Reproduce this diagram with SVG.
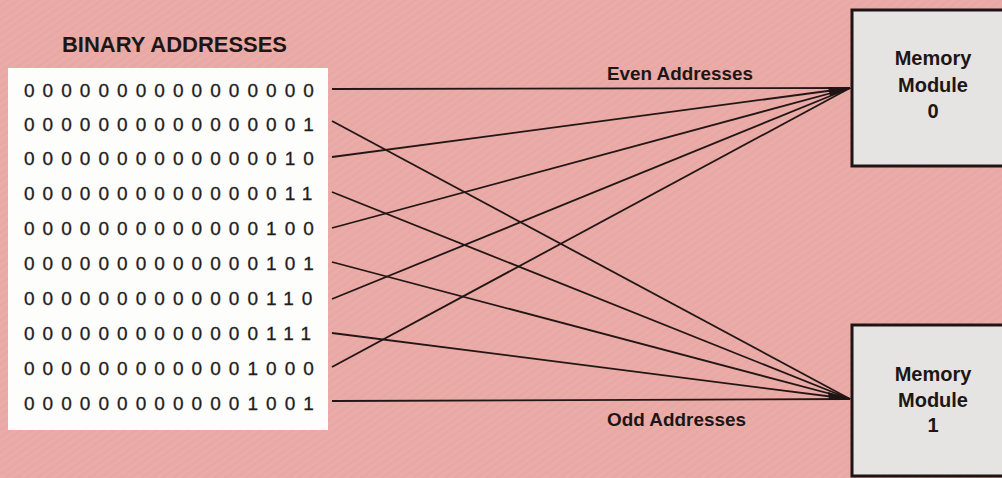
<svg xmlns="http://www.w3.org/2000/svg" width="1002" height="478" viewBox="0 0 1002 478">
<style>
.bold{font-family:"Liberation Sans",Arial,sans-serif;font-weight:bold;fill:#1e1616}
.addr{font-family:"Liberation Sans",Arial,sans-serif;font-size:19px;fill:#231c1c;stroke:#231c1c;stroke-width:0.3;letter-spacing:8.05px}
.mod{font-family:"Liberation Sans",Arial,sans-serif;font-weight:bold;font-size:20px;fill:#1e1616;text-anchor:middle}
.wire{stroke:#221616;stroke-width:1.8;fill:none}
.box{fill:#e5e4e2;stroke:#1e1414;stroke-width:3}
</style>
<defs>
<pattern id="stripes" width="6" height="6" patternUnits="userSpaceOnUse" patternTransform="rotate(-35)">
<rect width="6" height="3" fill="#ffffff" opacity="0.05"/>
</pattern>
</defs>
<rect width="1002" height="478" fill="#e9a8a3"/>
<rect width="1002" height="478" fill="url(#stripes)"/>

<g id="addresses">
<text class="bold" x="62" y="52" font-size="21.5" textLength="225" lengthAdjust="spacingAndGlyphs">BINARY ADDRESSES</text>
<rect x="8" y="68" width="320" height="362" fill="#fdfdfb"/>
<text class="addr" x="24" y="96.5">0000000000000000</text>
<text class="addr" x="24" y="130.5">0000000000000001</text>
<text class="addr" x="24" y="164.5">0000000000000010</text>
<text class="addr" x="24" y="199.5">0000000000000011</text>
<text class="addr" x="24" y="234.5">0000000000000100</text>
<text class="addr" x="24" y="269.5">0000000000000101</text>
<text class="addr" x="24" y="304.5">0000000000000110</text>
<text class="addr" x="24" y="339.5">0000000000000111</text>
<text class="addr" x="24" y="374.5">0000000000001000</text>
<text class="addr" x="24" y="409.5">0000000000001001</text>
</g>

<g id="module0">
<rect class="box" x="852" y="10" width="160" height="156"/>
<text class="mod" x="933" y="65">Memory</text>
<text class="mod" x="933" y="92">Module</text>
<text class="mod" x="933" y="118">0</text>
</g>

<g id="module1">
<rect class="box" x="852" y="325" width="160" height="151"/>
<text class="mod" x="933" y="381">Memory</text>
<text class="mod" x="933" y="407">Module</text>
<text class="mod" x="933" y="432">1</text>
</g>

<g id="connectors">
<line class="wire" x1="332" y1="89" x2="850" y2="88"/>
<line class="wire" x1="332" y1="121" x2="850" y2="399"/>
<line class="wire" x1="332" y1="157" x2="850" y2="88"/>
<line class="wire" x1="332" y1="192" x2="850" y2="399"/>
<line class="wire" x1="332" y1="228" x2="850" y2="88"/>
<line class="wire" x1="332" y1="262" x2="850" y2="399"/>
<line class="wire" x1="332" y1="299" x2="850" y2="88"/>
<line class="wire" x1="332" y1="333" x2="850" y2="399"/>
<line class="wire" x1="332" y1="367" x2="850" y2="88"/>
<line class="wire" x1="332" y1="401" x2="850" y2="399"/>
<polygon points="852,88 828,87 830,96" fill="#1e1414"/>
<polygon points="852,399 828,392 829,400" fill="#1e1414"/>
<text class="bold" x="607" y="80" font-size="18" textLength="146" lengthAdjust="spacingAndGlyphs">Even Addresses</text>
<text class="bold" x="607" y="426" font-size="18" textLength="139" lengthAdjust="spacingAndGlyphs">Odd Addresses</text>
</g>
</svg>
